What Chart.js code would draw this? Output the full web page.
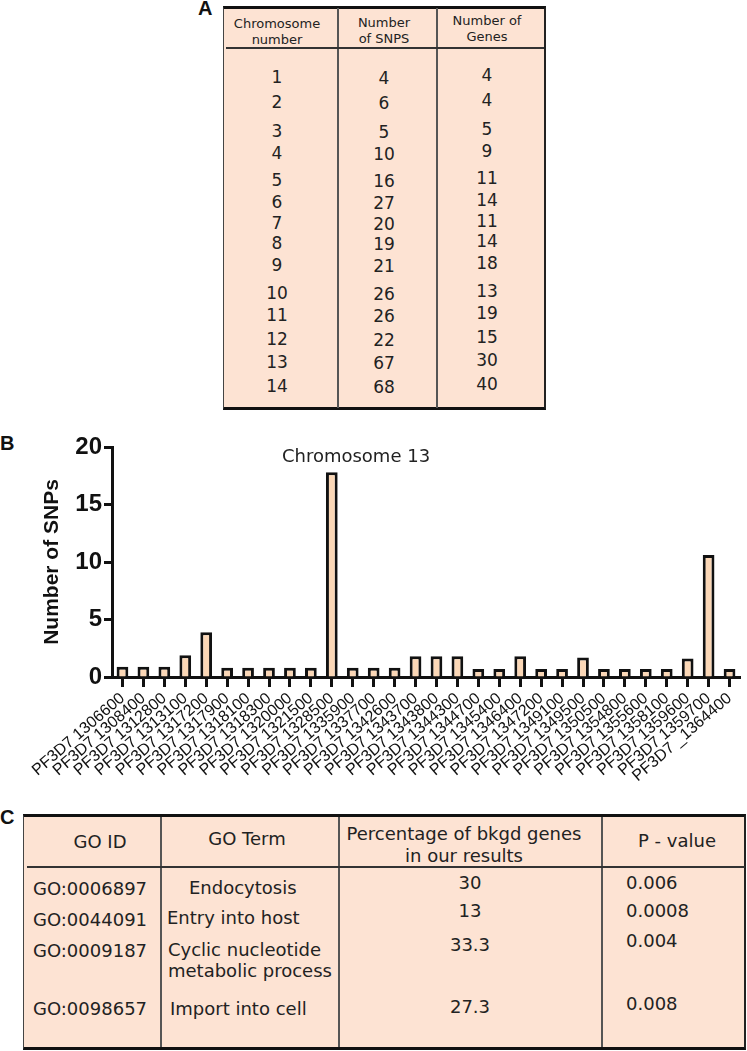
<!DOCTYPE html>
<html>
<head>
<meta charset="utf-8">
<script src="https://cdn.jsdelivr.net/npm/chart.js@4.4.1/dist/chart.umd.min.js"></script>
<style>
  body { margin: 0; background: #fff; }
  #page { position: relative; width: 747px; height: 1051px; overflow: hidden; font-family: "DejaVu Sans", Verdana, sans-serif; color: #222; }
  .abs { position: absolute; white-space: nowrap; }
  .panel { font-family: "Liberation Sans", Arial, sans-serif; font-weight: bold; font-size: 20px; color: #111; }
  .box { position: absolute; background: #fde3d3; box-sizing: border-box; }
  .vline { position: absolute; width: 1.5px; background: #555; }
  .hline { position: absolute; height: 1.5px; background: #333; }
  .c { transform: translate(-50%, -50%); text-align: center; }
  .l { transform: translate(0, -50%); }
  #grafico { position: absolute; left: 0; top: 430px; }
</style>
</head>
<body>
<div id="page">
  <div class="abs panel" style="left:198px; top:-3px;">A</div>
  <div class="abs panel" style="left:0px; top:432px;">B</div>
  <div class="abs panel" style="left:0px; top:806px;">C</div>

  <div id="tabelaA"></div>
  <canvas id="grafico" width="747" height="370"></canvas>
  <div class="abs c" style="left:356px; top:455px; font-size:18px; color:#222;">Chromosome 13</div>
  <div id="tabelaC"></div>
</div>

<script>
// --------------------------------- Dados: tabela A ---------------------------------
const cromossomos = ['1', '2', '3', '4', '5', '6', '7', '8', '9', '10', '11', '12', '13', '14'];
const numSnps = ['4', '6', '5', '10', '16', '27', '20', '19', '21', '26', '26', '22', '67', '68'];
const numGenes = ['4', '4', '5', '9', '11', '14', '11', '14', '18', '13', '19', '15', '30', '40'];

// --------------------------------- Dados: gráfico B ---------------------------------
const genes13 = [
  'PF3D7 1306600', 'PF3D7 1308400', 'PF3D7 1312800', 'PF3D7 1313100', 'PF3D7 1317200',
  'PF3D7 1317900', 'PF3D7 1318100', 'PF3D7 1318300', 'PF3D7 1320000', 'PF3D7 1321500',
  'PF3D7 1328500', 'PF3D7 1335900', 'PF3D7 1337700', 'PF3D7 1342600', 'PF3D7 1343700',
  'PF3D7 1343800', 'PF3D7 1344300', 'PF3D7 1344700', 'PF3D7 1345400', 'PF3D7 1346400',
  'PF3D7 1347200', 'PF3D7 1349100', 'PF3D7 1349500', 'PF3D7 1350500', 'PF3D7 1354800',
  'PF3D7 1355600', 'PF3D7 1358100', 'PF3D7 1359600', 'PF3D7 1359700', 'PF3D7 _1364400'
];
const snpsPorGene = [
  0.9, 0.9, 0.9, 1.9, 3.9, 0.8, 0.8, 0.8, 0.8, 0.8,
  17.8, 0.8, 0.8, 0.8, 1.8, 1.8, 1.8, 0.7, 0.7, 1.8,
  0.7, 0.7, 1.7, 0.7, 0.7, 0.7, 0.7, 1.6, 10.6, 0.7
];
const ticksY = [0, 5, 10, 15, 20];

// --------------------------------- Dados: tabela C ---------------------------------
const goIds = ['GO:0006897', 'GO:0044091', 'GO:0009187', 'GO:0098657'];
const goTermos = ['Endocytosis', 'Entry into host', 'Cyclic nucleotide<br>metabolic process', 'Import into cell'];
const goPercent = ['30', '13', '33.3', '27.3'];
const goPvalor = ['0.006', '0.0008', '0.004', '0.008'];

// helper para criar um texto posicionado
function texto(pai, html, x, y, classe, estilo) {
  const el = document.createElement('div');
  el.className = 'abs ' + classe;
  el.style.left = x + 'px';
  el.style.top = y + 'px';
  el.style.cssText += estilo || '';
  el.innerHTML = html;
  pai.appendChild(el);
  return el;
}

function caixa(pai, x, y, w, h, estilo) {
  const el = document.createElement('div');
  el.className = 'box';
  el.style.cssText = `left:${x}px;top:${y}px;width:${w}px;height:${h}px;` + estilo;
  pai.appendChild(el);
}

function linha(pai, classe, x, y, tam) {
  const el = document.createElement('div');
  el.className = classe;
  el.style.left = x + 'px';
  el.style.top = y + 'px';
  if (classe === 'vline') el.style.height = tam + 'px';
  else el.style.width = tam + 'px';
  pai.appendChild(el);
}

// --------------------------------- Tabela A ---------------------------------
function montarTabelaA() {
  const t = document.getElementById('tabelaA');
  caixa(t, 223, 6, 323, 404, 'border-top:3px solid #111;border-bottom:3px solid #111;border-left:1.5px solid #444;border-right:2px solid #222;');
  linha(t, 'vline', 337, 8, 400);
  linha(t, 'vline', 436, 8, 400);
  linha(t, 'hline', 226, 47, 318);

  const centros = [277, 384, 487];
  const cab = [['Chromosome', 'number'], ['Number', 'of SNPS'], ['Number of', 'Genes']];
  const cabY = [[23, 39], [22, 38], [20, 36]];
  cab.forEach((c, i) => {
    texto(t, c[0], centros[i], cabY[i][0], 'c', 'font-size:13px;');
    texto(t, c[1], centros[i], cabY[i][1], 'c', 'font-size:13px;');
  });

  const linhasY = [77, 102, 131, 153, 180, 202, 223, 243, 265, 293, 315, 339, 362, 386];
  const desloc = [0, 1, -2];
  [cromossomos, numSnps, numGenes].forEach((col, i) => {
    col.forEach((v, j) => {
      texto(t, v, centros[i], linhasY[j] + desloc[i], 'c', 'font-size:17px;');
    });
  });
}

// --------------------------------- Tabela C ---------------------------------
function montarTabelaC() {
  const t = document.getElementById('tabelaC');
  caixa(t, 23, 814, 723, 236, 'border-top:3px solid #111;border-bottom:3px solid #111;border-left:1.5px solid #444;border-right:2px solid #222;');
  linha(t, 'vline', 160, 817, 230);
  linha(t, 'vline', 338, 817, 230);
  linha(t, 'vline', 601, 817, 230);
  linha(t, 'hline', 27, 866, 718);

  texto(t, 'GO ID', 100, 841, 'c', 'font-size:18px;');
  texto(t, 'GO Term', 247, 838, 'c', 'font-size:18px;');
  texto(t, 'Percentage of bkgd genes', 464, 833, 'c', 'font-size:18px;');
  texto(t, 'in our results', 464, 855, 'c', 'font-size:18px;');
  texto(t, 'P - value', 677, 840, 'c', 'font-size:18px;');

  const idY = [888, 919, 950, 1008];
  const termoX = [189, 167, 168, 170];
  const termoY = [887, 917, 960, 1008];
  const pctY = [882, 910, 944, 1006];
  const pY = [882, 910, 940, 1003];
  goIds.forEach((id, i) => {
    texto(t, id, 33, idY[i], 'l', 'font-size:18px;');
    texto(t, goTermos[i], termoX[i], termoY[i], 'l', 'font-size:18px;line-height:21px;');
    texto(t, goPercent[i], 470, pctY[i], 'c', 'font-size:18px;');
    texto(t, goPvalor[i], 626, pY[i], 'l', 'font-size:18px;');
  });
}

montarTabelaA();
montarTabelaC();

// --------------------------------- Gráfico B ---------------------------------
const ctx = document.getElementById('grafico').getContext('2d');
const grafico = new Chart(ctx, {
  type: 'bar',
  data: {
    labels: genes13,
    datasets: [{
      data: snpsPorGene,
      backgroundColor: '#fbd7b6',
      borderColor: '#111',
      borderWidth: 3,
      barPercentage: 0.56,
      categoryPercentage: 1
    }]
  },
  options: {
    responsive: false,
    animation: false,
    layout: { padding: { top: 17, right: 7, left: 0, bottom: 0 } },
    plugins: {
      legend: { display: false },
      tooltip: { enabled: false }
    },
    scales: {
      x: {
        offset: true,
        grid: { display: true, drawOnChartArea: false, offset: false, tickLength: 10, tickWidth: 3, tickColor: '#111' },
        border: { display: true, color: '#111', width: 3 },
        ticks: {
          autoSkip: false,
          maxRotation: 41,
          minRotation: 41,
          padding: 2,
          color: '#111',
          font: { family: 'Liberation Sans', size: 16 }
        },
        afterFit: function(s) { s.height = 123; }
      },
      y: {
        min: 0,
        max: 20,
        afterBuildTicks: function(s) { s.ticks = ticksY.map(v => ({ value: v })); },
        grid: { display: true, drawOnChartArea: false, tickLength: 8, tickWidth: 3, tickColor: '#111' },
        border: { display: true, color: '#111', width: 3 },
        ticks: {
          padding: 2,
          color: '#111',
          font: { family: 'Liberation Sans', size: 24, weight: 'bold' }
        },
        title: {
          display: true,
          text: 'Number of SNPs',
          color: '#111',
          font: { family: 'Liberation Sans', size: 21, weight: 'bold' },
          padding: { top: 40, bottom: 0 }
        },
        afterFit: function(s) { s.width = 112; }
      }
    }
  }
});
</script>
</body>
</html>
